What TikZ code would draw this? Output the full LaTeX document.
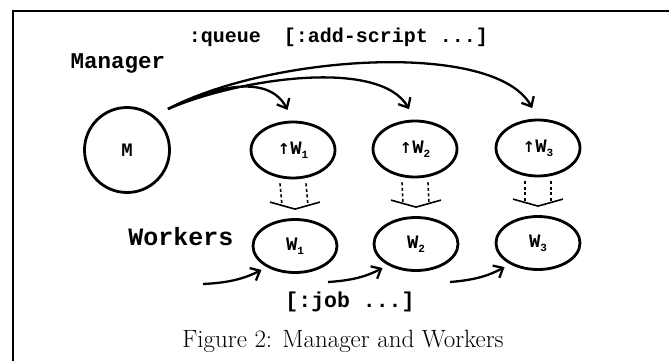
\documentclass[tikz,border=0pt]{standalone}
\usepackage{fontspec}
\newfontfamily\monofam{Liberation Mono}
\newfontfamily\arrowfam{DejaVu Sans}
\usetikzlibrary{arrows.meta,calc,shapes.geometric}
\newcommand\lblfont{\monofam\bfseries\fontsize{19}{19}\selectfont}
\newcommand\upar{{\arrowfam\bfseries\fontsize{15}{15}\selectfont ↑}}
\newcommand\wsub[1]{\raisebox{-4pt}{\fontsize{11}{11}\selectfont #1}}
\tikzset{
  frameline/.style={line width=2pt},
  proc/.style={ellipse,draw,line width=2.8pt,minimum width=84pt,minimum height=56pt,inner sep=0pt,font=\lblfont},
  worker/.style={proc,minimum height=53pt},
  tttext/.style={inner sep=0pt,anchor=base,font=\monofam\bfseries\fontsize{#1}{#1}\selectfont},
  captext/.style={inner sep=0pt,anchor=base,font=\fontsize{25}{26}\selectfont},
  msg/.style={line width=2.3pt,-{Straight Barb[length=8pt,width=14pt]}},
  dashline/.style={line width=1.6pt,dash pattern=on 3pt off 2.5pt},
  chev/.style={line width=1.6pt},
}
\begin{document}
\begin{tikzpicture}[x=1pt,y=-1pt]
\useasboundingbox (0,0) rectangle (669,361);
% frame
\draw[frameline] (12,11) -- (669,11);
\draw[frameline] (13,10) -- (13,361);

% texts
\node[tttext=20] (queue) at (225,43) {:queue};
\node[tttext=20] (addscr) at (386,43) {[:add-script ...]};
\node[tttext=22.5] (mgr) at (118,68) {Manager};
\node[tttext=25] (wrk) at (181,245) {Workers};
\node[tttext=21.5] (job) at (350,307) {[:job ...]};
\node[captext] (cap) at (343,347) {Figure 2: Manager and Workers};

% manager
\node[circle,draw,line width=2.8pt,minimum size=85pt,inner sep=0pt,font=\lblfont] (M) at (127,150) {M};
\coordinate (ms) at (168,109);

% queue processes
\node[proc] (t1) at (293,150) {\upar W\wsub{1}};
\node[proc] (t2) at (415,149) {\upar W\wsub{2}};
\node[proc] (t3) at (538,148) {\upar W\wsub{3}};

% workers
\node[worker] (b1) at (295,246) {W\wsub{1}};
\node[worker] (b2) at (416,244) {W\wsub{2}};
\node[worker] (b3) at (538,243) {W\wsub{3}};

% manager sends scripts to the queues
\draw[msg,shorten >=12pt] (ms) .. controls (210,88) and (268,72) .. (t1.north);
\draw[msg,shorten >=12pt] (ms) .. controls (240,78) and (380,58) .. (t2.north);
\draw[msg,shorten >=12pt] (ms) .. controls (270,55) and (495,40) .. (t3.north);

% queue feeds its worker
\foreach \i in {1,2,3}{
  \draw[dashline] ($(t\i.south)+(-13,4)$) -- ($(b\i.north)+(-13,-12.6)$);
  \draw[dashline] ($(t\i.south)+(13,4)$) -- ($(b\i.north)+(13,-12.6)$);
  \draw[chev] ($(b\i.north)+(-25,-16)$) -- ($(b\i.north)+(0,-9)$) -- ($(b\i.north)+(25,-16)$);
}

% jobs arriving at workers
\coordinate (j1) at (203,284);
\coordinate (j2) at (328,282);
\coordinate (j3) at (450,282);
\draw[msg,shorten >=6pt] (j1) to[bend right=12] (b1.217);
\draw[msg,shorten >=6pt] (j2) to[bend right=12] (b2.217);
\draw[msg,shorten >=6pt] (j3) to[bend right=12] (b3.217);
\end{tikzpicture}
\end{document}
